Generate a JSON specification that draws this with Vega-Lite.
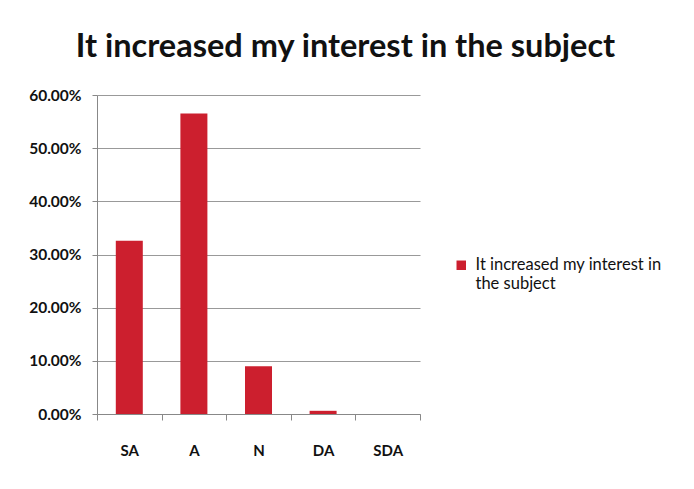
{
  "$schema": "https://vega.github.io/schema/vega-lite/v6.json",
  "width": 323,
  "height": 319,
  "autosize": {"type": "none"},
  "padding": {"left": 97, "top": 95, "right": 274, "bottom": 75},
  "background": "white",
  "title": {
    "text": "It increased my interest in the subject",
    "font": "Lato",
    "fontSize": 32.5,
    "fontWeight": "bold",
    "color": "#111111",
    "anchor": "middle",
    "dx": 87,
    "offset": 25
  },
  "data": {
    "values": [
      {"response": "SA", "pct": 0.326, "series": "It increased my interest in the subject"},
      {"response": "A", "pct": 0.565, "series": "It increased my interest in the subject"},
      {"response": "N", "pct": 0.09, "series": "It increased my interest in the subject"},
      {"response": "DA", "pct": 0.006, "series": "It increased my interest in the subject"},
      {"response": "SDA", "pct": 0.0, "series": "It increased my interest in the subject"}
    ]
  },
  "mark": {"type": "bar", "width": 27},
  "encoding": {
    "x": {
      "field": "response",
      "type": "nominal",
      "sort": ["SA", "A", "N", "DA", "SDA"],
      "scale": {"paddingInner": 0, "paddingOuter": 0},
      "axis": {
        "title": null,
        "labelAngle": 0,
        "labelFont": "Lato",
        "labelFontSize": 15,
        "labelFontWeight": "bold",
        "labelColor": "#111111",
        "labelPadding": 23,
        "tickBand": "extent",
        "tickSize": 6,
        "tickColor": "#888888",
        "domainColor": "#888888",
        "grid": false
      }
    },
    "y": {
      "field": "pct",
      "type": "quantitative",
      "scale": {"domain": [0, 0.6]},
      "axis": {
        "title": null,
        "format": ".2%",
        "values": [0, 0.1, 0.2, 0.3, 0.4, 0.5, 0.6],
        "labelFont": "Lato",
        "labelFontSize": 15.5,
        "labelFontWeight": "bold",
        "labelColor": "#111111",
        "labelPadding": 11,
        "tickSize": 5,
        "tickColor": "#888888",
        "domainColor": "#888888",
        "gridColor": "#999999"
      }
    },
    "color": {
      "field": "series",
      "type": "nominal",
      "scale": {"range": ["#cc1f2e"]},
      "legend": {
        "title": null,
        "orient": "none",
        "legendX": 356,
        "legendY": 162,
        "symbolType": "square",
        "symbolSize": 90,
        "labelFont": "Lato",
        "labelFontSize": 16.5,
        "labelColor": "#111111",
        "labelLimit": 300,
        "labelOffset": 6,
        "labelExpr": "['It increased my interest in', 'the subject']"
      }
    }
  },
  "config": {"view": {"stroke": null}}
}
